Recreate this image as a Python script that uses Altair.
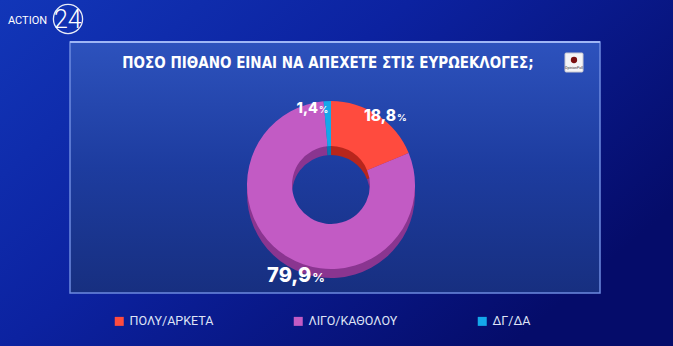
import altair as alt
import pandas as pd

categories = ["ΠΟΛΥ/ΑΡΚΕΤΑ", "ΛΙΓΟ/ΚΑΘΟΛΟΥ", "ΔΓ/ΔΑ"]
values = [18.8, 79.9, 1.4]
labels = ["18,8", "79,9", "1,4"]
colors = ["#ff4b3e", "#c25bc4", "#14a8ea"]
side_colors = ["#b8261c", "#8a3590", "#0b74b0"]
title = "ΠΟΣΟ  ΠΙΘΑΝΟ  ΕΙΝΑΙ  ΝΑ  ΑΠΕΧΕΤΕ  ΣΤΙΣ  ΕΥΡΩΕΚΛΟΓΕΣ;"

df = pd.DataFrame({"cat": categories, "value": values, "label": labels,
                   "order": list(range(len(categories)))})
total = sum(values)

W, H = 673, 346
CX, CY = 331, 185
R_OUT, R_IN = 84, 39

one = alt.Data(values=[{}])

bg = alt.Chart(one).mark_rect(
    fill=alt.Gradient(gradient="linear", x1=0, y1=0, x2=1, y2=0.6,
                      stops=[alt.GradientStop(offset=0, color="#1236b8"),
                             alt.GradientStop(offset=0.45, color="#0c22a0"),
                             alt.GradientStop(offset=1, color="#050c6a")])
).encode(x=alt.value(0), x2=alt.value(W), y=alt.value(0), y2=alt.value(H))

panel = alt.Chart(one).mark_rect(
    fill=alt.Gradient(gradient="linear", x1=0, y1=0, x2=0, y2=1,
                      stops=[alt.GradientStop(offset=0, color="#2d52bd"),
                             alt.GradientStop(offset=0.5, color="#1d3c9f"),
                             alt.GradientStop(offset=1, color="#172f80")]),
    stroke="#6d8be0", strokeWidth=1.5
).encode(x=alt.value(70), x2=alt.value(600), y=alt.value(42), y2=alt.value(293))

topline = alt.Chart(one).mark_rule(color="#9fb6f5", strokeWidth=2).encode(
    x=alt.value(70), x2=alt.value(600), y=alt.value(42))

title_t = alt.Chart(alt.Data(values=[{"t": title}])).mark_text(
    font="DejaVu Sans Condensed", fontWeight="bold", fontSize=15, color="white",
    align="center", baseline="middle"
).encode(x=alt.value(328), y=alt.value(63), text="t:N")

logo_box = alt.Chart(one).mark_rect(fill="#f4f4f6", stroke="#c8c8d0", cornerRadius=1).encode(
    x=alt.value(565), x2=alt.value(583), y=alt.value(53), y2=alt.value(72))
logo_dot = alt.Chart(one).mark_point(filled=True, color="#7a1010", size=40, opacity=1).encode(
    x=alt.value(574), y=alt.value(60))
logo_txt = alt.Chart(alt.Data(values=[{"t": "OpinionPoll"}])).mark_text(
    fontSize=3.5, color="#333", font="Roboto").encode(x=alt.value(574), y=alt.value(68), text="t:N")

act = alt.Chart(alt.Data(values=[{"t": "ACTION"}])).mark_text(
    font="Roboto", fontSize=11, color="white", align="left", baseline="middle"
).encode(x=alt.value(8), y=alt.value(21), text="t:N")
act24 = alt.Chart(alt.Data(values=[{"t": "24"}])).mark_text(
    font="Roboto", fontSize=25, color="white", align="left", baseline="middle", fontWeight=300
).encode(x=alt.value(54), y=alt.value(20), text="t:N")
act_ring = alt.Chart(one).mark_point(shape="circle", filled=False, stroke="white",
                                      strokeWidth=1.3, size=850, opacity=0.9).encode(
    x=alt.value(68), y=alt.value(19))

theta_scale = alt.Scale(domain=[0, total])

side = alt.Chart(df).mark_arc(outerRadius=R_OUT, innerRadius=R_IN, stroke=None).encode(
    x=alt.value(CX), y=alt.value(CY + 9),
    theta=alt.Theta("value:Q", stack=True, scale=theta_scale),
    color=alt.Color("cat:N", scale=alt.Scale(domain=categories, range=side_colors), legend=None),
    order=alt.Order("order:Q"),
)

top = alt.Chart(df).mark_arc(outerRadius=R_OUT, innerRadius=R_IN, stroke=None).encode(
    x=alt.value(CX), y=alt.value(CY),
    theta=alt.Theta("value:Q", stack=True, scale=theta_scale),
    color=alt.Color("cat:N", scale=alt.Scale(domain=categories, range=colors),
                    legend=alt.Legend(title=None, orient="none", legendX=113, legendY=315,
                                      direction="horizontal", symbolType="square",
                                      symbolSize=81, symbolStrokeWidth=0,
                                      labelFont="Roboto", labelFontSize=12.5,
                                      labelColor="#dfe3f5", columnPadding=78,
                                      labelOffset=4)),
    order=alt.Order("order:Q"),
)

base_lab = alt.Chart(df).transform_window(
    cum="sum(value)", sort=[alt.SortField("order")], frame=[None, 0]
).transform_calculate(mid="datum.cum - datum.value / 2")

def label_layer(cat, dx, dy, size):
    b = base_lab.transform_filter(alt.datum.cat == cat)
    enc = dict(x=alt.value(CX), y=alt.value(CY),
               theta=alt.Theta("mid:Q", scale=theta_scale), radius=alt.value(90))
    num = b.mark_text(font="Inter", fontWeight=800, fontSize=size, color="white",
                      align="right", baseline="alphabetic", dx=dx, dy=dy).encode(text="label:N", **enc)
    pct = b.mark_text(font="Inter", fontWeight=700, fontSize=size * 0.62, color="white",
                      align="left", baseline="alphabetic", dx=dx + 1, dy=dy).encode(
        text=alt.value("%"), **enc)
    return [num, pct]

labs = (label_layer(categories[0], 15, 11, 15.5)
        + label_layer(categories[1], 27, 20, 20)
        + label_layer(categories[2], -9, 18, 14.5))

chart = alt.layer(bg, panel, topline, title_t, logo_box, logo_dot, logo_txt,
                  act, act24, act_ring, side, top, *labs).resolve_scale(
    color="independent", theta="shared"
).properties(width=W, height=H, padding=0, autosize="none").configure(
    background="#0a1a8a"
).configure_view(stroke=None)

chart.save("out.html", embed_options={"renderer": "svg", "actions": False})
